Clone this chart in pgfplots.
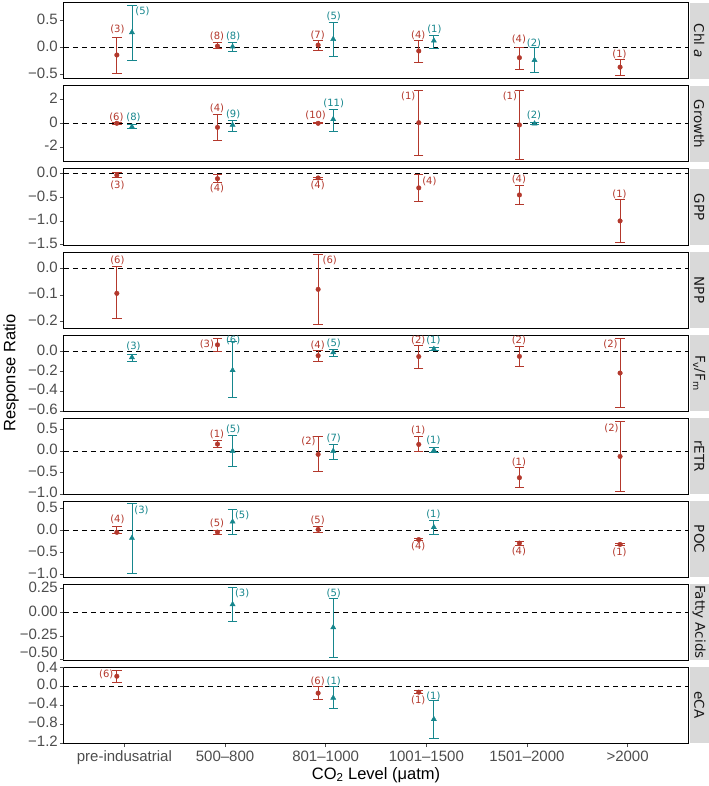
\documentclass[border=0pt]{standalone}
\usepackage{fontspec}
\setmainfont{Liberation Sans}
\newfontfamily\dejavu{DejaVu Sans}
\usepackage{pgfplots}
\pgfplotsset{compat=1.18}
\usepgfplotslibrary{groupplots}
\definecolor{RedC}{HTML}{B3382C}
\definecolor{TealC}{HTML}{16868D}
\definecolor{StripG}{HTML}{D9D9D9}
\definecolor{TickG}{HTML}{4D4D4D}
\tikzset{nlab/.style={font=\dejavu\fontsize{10}{10}\selectfont, inner sep=0pt}}
\pgfplotsset{
 panel/.style={scale only axis, width=624pt, height=76pt, xmin=0.4, xmax=6.6, clip=false,
  xtick={1,2,3,4,5,6}, xticklabels={}, xtick style={draw=none},
  ytick pos=left, tick align=outside, major tick length=4pt,
  ytick style={TickG, line width=0.6pt},
  tick label style={font=\fontsize{15}{15}\selectfont, text=TickG},
  axis line style={black, line width=1pt},
  yticklabel style={inner xsep=1pt, inner ysep=0pt, text height=1.45ex, text depth=0pt, xshift=-1pt}},
 redpts/.style={RedC, mark=*, mark size=2.3pt, only marks,
  error bars/.cd, y dir=both, y explicit, error mark=-,
  error bar style={RedC, line width=0.8pt},
  error mark options={RedC, line width=0.8pt, mark size=4.7pt, rotate=90}},
 tealpts/.style={TealC, mark=triangle*, mark size=3pt, only marks,
  error bars/.cd, y dir=both, y explicit, error mark=-,
  error bar style={TealC, line width=0.8pt},
  error mark options={TealC, line width=0.8pt, mark size=4.7pt, rotate=90}},
 zeroline/.style={black, dashed, dash pattern=on 5pt off 4pt, line width=0.8pt, forget plot}
}
\newcommand{\nr}[3]{\node[nlab, text=RedC] at (axis cs:#1,#2) {(#3)};}
\newcommand{\nt}[3]{\node[nlab, text=TealC] at (axis cs:#1,#2) {(#3)};}
\newcommand{\strip}[1]{\fill[StripG] ([xshift=1.5pt]rel axis cs:1,0) rectangle ([xshift=21pt]rel axis cs:1,1);
 \node[rotate=-90, font=\dejavu\fontsize{13.5}{13.5}\selectfont, text=black!90] at ([xshift=11.2pt]rel axis cs:1,0.5) {#1};}
\newcommand{\zl}{\addplot[zeroline] coordinates {(0.4,0) (6.6,0)};}
\begin{document}
\begin{tikzpicture}
\begin{groupplot}[group style={group name=G, group size=1 by 9, vertical sep=7pt}, panel]
% Chl a
\nextgroupplot[ymin=-0.58, ymax=0.83, ytick={-0.5,0,0.5}, yticklabels={−0.5,0.0,0.5}]
\zl
\addplot[redpts] table[x=x,y=y,y error plus=ep,y error minus=em] {
x y ep em
0.925 -0.135 0.335 0.34
1.925 0.03 0.06 0.04
2.925 0.05 0.09 0.105
3.925 -0.06 0.19 0.205
4.925 -0.185 0.195 0.225
5.925 -0.36 0.145 0.15
};
\addplot[tealpts] table[x=x,y=y,y error plus=ep,y error minus=em] {
x y ep em
1.075 0.285 0.505 0.52
2.075 0.02 0.08 0.08
3.075 0.16 0.315 0.33
4.075 0.13 0.10 0.14
5.075 -0.23 0.23 0.225
};
\nr{0.93}{0.35}{3} \nt{1.18}{0.68}{5}
\nr{1.92}{0.22}{8} \nt{2.08}{0.22}{8}
\nr{2.92}{0.235}{7} \nt{3.08}{0.59}{5}
\nr{3.92}{0.235}{4} \nt{4.08}{0.35}{1}
\nr{4.92}{0.16}{4} \nt{5.07}{0.09}{2}
\nr{5.92}{-0.12}{1}
\strip{Chl \textit{a}}
\coordinate (TR) at (rel axis cs:1,1);
% Growth
\nextgroupplot[ymin=-3.28, ymax=3.16, ytick={-2,0,2}, yticklabels={-2,0,2}]
\zl
\addplot[redpts] table[x=x,y=y,y error plus=ep,y error minus=em] {
x y ep em
0.925 0.0 0.06 0.06
1.925 -0.34 1.10 1.10
2.925 0.0 0.05 0.05
3.925 0.05 2.77 2.79
4.925 -0.14 2.96 2.94
};
\addplot[tealpts] table[x=x,y=y,y error plus=ep,y error minus=em] {
x y ep em
1.075 -0.29 0.17 0.11
2.075 -0.14 0.36 0.51
3.075 0.34 0.85 0.99
5.075 -0.03 0.08 0.08
};
\nr{0.92}{0.47}{6} \nt{1.09}{0.53}{8}
\nr{1.92}{1.27}{4} \nt{2.08}{0.79}{9}
\nr{2.9}{0.7}{10} \nt{3.08}{1.72}{11}
\nr{3.82}{2.31}{1}
\nr{4.83}{2.31}{1} \nt{5.07}{0.65}{2}
\strip{Growth}
% GPP
\nextgroupplot[ymin=-1.51, ymax=0.1, ytick={-1.5,-1,-0.5,0}, yticklabels={−1.5,−1.0,−0.5,0.0}]
\zl
\addplot[redpts] table[x=x,y=y,y error plus=ep,y error minus=em] {
x y ep em
0.925 -0.03 0.05 0.05
1.925 -0.105 0.095 0.085
2.925 -0.09 0.02 0.02
3.925 -0.30 0.29 0.29
4.925 -0.45 0.195 0.20
5.925 -1.0 0.45 0.45
};
\nr{0.93}{-0.24}{3}
\nr{1.92}{-0.32}{4}
\nr{2.92}{-0.25}{4}
\nr{4.03}{-0.155}{4}
\nr{4.92}{-0.11}{4}
\nr{5.92}{-0.435}{1}
\strip{GPP}
% NPP
\nextgroupplot[ymin=-0.224, ymax=0.061, ytick={-0.2,-0.1,0}, yticklabels={−0.2,−0.1,0.0}]
\zl
\addplot[redpts] table[x=x,y=y,y error plus=ep,y error minus=em] {
x y ep em
0.925 -0.094 0.10 0.093
2.925 -0.079 0.13 0.131
};
\nr{0.93}{0.031}{6}
\nr{3.04}{0.031}{6}
\strip{NPP}
% Fv/Fm
\nextgroupplot[ymin=-0.6, ymax=0.165, ytick={-0.6,-0.4,-0.2,0}, yticklabels={−0.6,−0.4,−0.2,0.0}]
\zl
\addplot[redpts] table[x=x,y=y,y error plus=ep,y error minus=em] {
x y ep em
1.925 0.066 0.064 0.066
2.925 -0.043 0.05 0.057
3.925 -0.052 0.115 0.123
4.925 -0.05 0.10 0.098
5.925 -0.218 0.348 0.346
};
\addplot[tealpts] table[x=x,y=y,y error plus=ep,y error minus=em] {
x y ep em
1.075 -0.06 0.03 0.04
2.075 -0.19 0.295 0.27
3.075 -0.01 0.034 0.042
4.075 0.024 0.012 0.012
};
\nt{1.09}{0.05}{3}
\nr{1.82}{0.066}{3} \nt{2.08}{0.116}{6}
\nr{2.92}{0.063}{4} \nt{3.08}{0.083}{5}
\nr{3.92}{0.106}{2} \nt{4.07}{0.106}{1}
\nr{4.92}{0.106}{2}
\nr{5.83}{0.066}{2}
\strip{F\textsubscript{v}/F\textsubscript{m}}
% rETR
\nextgroupplot[ymin=-1.0, ymax=0.77, ytick={-1,-0.5,0,0.5}, yticklabels={−1.0,−0.5,0.0,0.5}]
\zl
\addplot[redpts] table[x=x,y=y,y error plus=ep,y error minus=em] {
x y ep em
1.925 0.163 0.087 0.07
2.925 -0.077 0.407 0.403
3.925 0.155 0.185 0.17
4.925 -0.62 0.23 0.22
5.925 -0.125 0.825 0.825
};
\addplot[tealpts] table[x=x,y=y,y error plus=ep,y error minus=em] {
x y ep em
2.075 0.0 0.37 0.36
3.075 0.0 0.155 0.187
4.075 0.017 0.063 0.057
};
\nr{1.92}{0.39}{1} \nt{2.08}{0.5}{5}
\nr{2.83}{0.22}{2} \nt{3.08}{0.30}{7}
\nr{3.92}{0.49}{1} \nt{4.07}{0.25}{1}
\nr{4.92}{-0.265}{1}
\nr{5.84}{0.54}{2}
\strip{rETR}
% POC
\nextgroupplot[ymin=-1.06, ymax=0.666, ytick={-1,-0.5,0,0.5}, yticklabels={−1.0,−0.5,0.0,0.5}]
\zl
\addplot[redpts] table[x=x,y=y,y error plus=ep,y error minus=em] {
x y ep em
0.925 -0.045 0.125 0.015
1.925 -0.04 0.03 0.05
2.925 0.02 0.06 0.06
3.925 -0.21 0.02 0.02
4.925 -0.29 0.04 0.05
5.925 -0.32 0.02 0.02
};
\addplot[tealpts] table[x=x,y=y,y error plus=ep,y error minus=em] {
x y ep em
1.075 -0.175 0.785 0.805
2.075 0.195 0.285 0.285
4.075 0.07 0.16 0.16
};
\nr{0.93}{0.25}{4} \nt{1.17}{0.46}{3}
\nr{1.92}{0.16}{5} \nt{2.17}{0.35}{5}
\nr{2.92}{0.23}{5}
\nr{3.92}{-0.37}{4} \nt{4.07}{0.355}{1}
\nr{4.92}{-0.48}{4}
\nr{5.92}{-0.51}{1}
\strip{POC}
% Fatty Acids
\nextgroupplot[ymin=-0.505, ymax=0.3, ytick={-0.25,0,0.25}, yticklabels={−0.25,0.00,0.25},
  extra y ticks={-0.5}, extra y tick labels={−0.50},
  extra y tick style={yticklabel style={yshift=6pt}}]
\zl
\addplot[tealpts] table[x=x,y=y,y error plus=ep,y error minus=em] {
x y ep em
2.075 0.084 0.176 0.184
3.075 -0.16 0.303 0.315
};
\nt{2.17}{0.2}{3}
\nt{3.08}{0.2}{5}
\strip{Fatty Acids}
% eCA
\nextgroupplot[ymin=-1.2, ymax=0.4, ytick={-1.2,-0.8,-0.4,0}, yticklabels={−1.2,−0.8,−0.4,0.0},
  extra y ticks={0.4}, extra y tick labels={0.4},
  extra y tick style={yticklabel style={yshift=-1.5pt}},
  xticklabels={pre-indusatrial,500–800,801–1000,1001–1500,1501–2000,>2000},
  xtick style={draw=TickG, line width=0.6pt}, xtick pos=bottom,
  xlabel={CO\textsubscript{2} Level (μatm)},
  every axis x label/.style={at={(rel axis cs:0.5,0)}, anchor=center, yshift=-32pt, font=\fontsize{16.5}{16.5}\selectfont},
  ylabel={}]
\zl
\addplot[redpts] table[x=x,y=y,y error plus=ep,y error minus=em] {
x y ep em
0.925 0.206 0.124 0.131
2.925 -0.15 0.135 0.13
3.925 -0.13 0.03 0.03
};
\addplot[tealpts] table[x=x,y=y,y error plus=ep,y error minus=em] {
x y ep em
3.075 -0.25 0.235 0.22
4.075 -0.70 0.40 0.41
};
\nr{0.82}{0.24}{6}
\nr{2.92}{0.09}{6} \nt{3.08}{0.09}{1}
\nr{3.92}{-0.30}{1} \nt{4.07}{-0.22}{1}
\strip{eCA}
\coordinate (BL) at (rel axis cs:0,0);
\end{groupplot}
\node[rotate=90, font=\fontsize{16.5}{16.5}\selectfont] at ([xshift=-53pt]G c1r5.west) {Response Ratio};
\pgfresetboundingbox
\path[use as bounding box] ([xshift=-64pt,yshift=-43pt]BL) rectangle ([xshift=21pt,yshift=3pt]TR);
\end{tikzpicture}
\end{document}
